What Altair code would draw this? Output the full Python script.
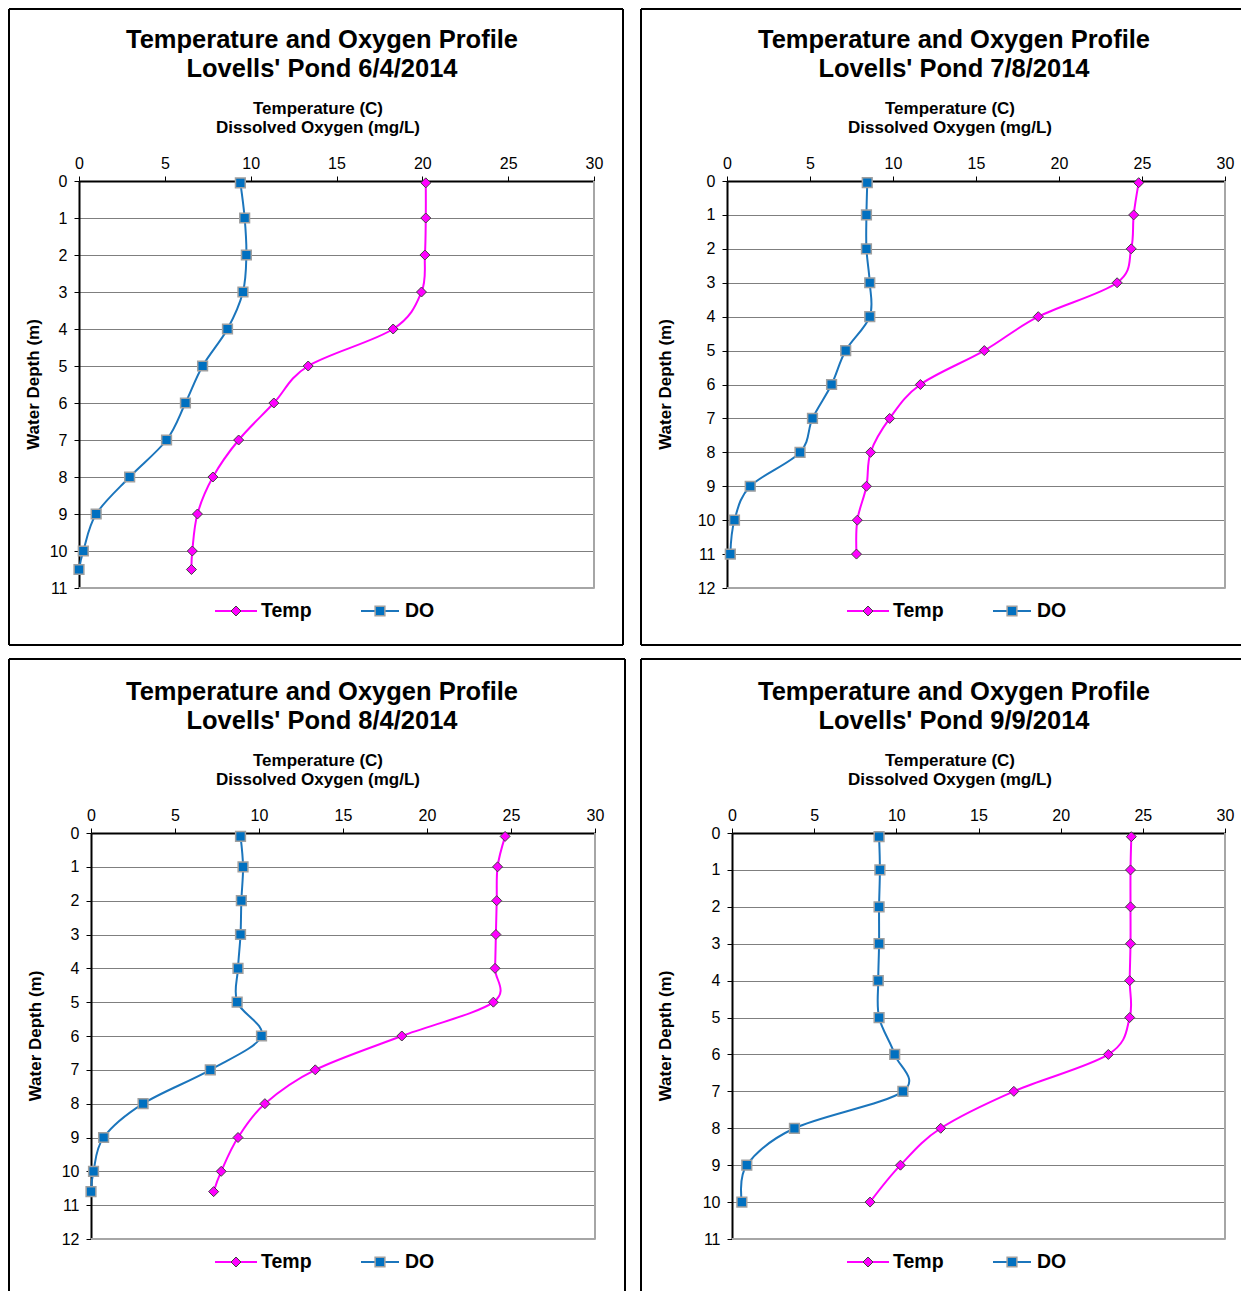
import altair as alt
import pandas as pd

FONT = "Liberation Sans"
TEMP_COLOR = "#FF00FF"
DO_COLOR = "#1B75BC"

TITLE_LINE = "Temperature and Oxygen Profile"
DATES = ["Lovells' Pond 6/4/2014", "Lovells' Pond 7/8/2014",
         "Lovells' Pond 8/4/2014", "Lovells' Pond 9/9/2014"]
X_TITLE = ["Temperature (C)", "Dissolved Oxygen (mg/L)"]
Y_TITLE = "Water Depth (m)"
X_TICKS = [0, 5, 10, 15, 20, 25, 30]

# Panel 1: 6/4/2014
DEPTH_1 = [0.05, 1, 2, 3, 4, 5, 6, 7, 8, 9, 10, 10.5]
TEMP_1 = [20.2, 20.2, 20.15, 19.95, 18.3, 13.35, 11.35, 9.3, 7.8, 6.9, 6.6, 6.55]
DO_1 = [9.4, 9.65, 9.75, 9.55, 8.65, 7.2, 6.2, 5.1, 2.95, 1.0, 0.25, 0.0]

# Panel 2: 7/8/2014
DEPTH_2 = [0.05, 1, 2, 3, 4, 5, 6, 7, 8, 9, 10, 11]
TEMP_2 = [24.8, 24.5, 24.35, 23.5, 18.75, 15.5, 11.65, 9.8, 8.65, 8.4, 7.85, 7.8]
DO_2 = [8.45, 8.4, 8.4, 8.6, 8.6, 7.15, 6.3, 5.15, 4.4, 1.4, 0.45, 0.2]

# Panel 3: 8/4/2014
DEPTH_3 = [0.1, 1, 2, 3, 4, 5, 6, 7, 8, 9, 10, 10.6]
TEMP_3 = [24.65, 24.2, 24.15, 24.1, 24.05, 23.95, 18.5, 13.35, 10.35, 8.75, 7.75, 7.3]
DO_3 = [8.9, 9.05, 8.95, 8.9, 8.75, 8.7, 10.15, 7.1, 3.1, 0.75, 0.15, 0.0]

# Panel 4: 9/9/2014
DEPTH_4 = [0.1, 1, 2, 3, 4, 5, 6, 7, 8, 9, 10]
TEMP_4 = [24.3, 24.25, 24.25, 24.25, 24.2, 24.2, 22.9, 17.15, 12.7, 10.25, 8.4]
DO_4 = [8.95, 9.0, 8.95, 8.95, 8.9, 8.95, 9.9, 10.4, 3.8, 0.9, 0.6]

Y_MAX = [11, 12, 12, 11]

ONE = pd.DataFrame({"a": [0]})


def text_layer(txt, x, y, size, weight="bold", angle=0, align="center"):
    return alt.Chart(pd.DataFrame({"t": [txt]})).mark_text(
        font=FONT, fontSize=size, fontWeight=weight, angle=angle,
        align=align, baseline="middle", color="black"
    ).encode(x=alt.value(x), y=alt.value(y), text="t:N")


def edge(x1, x2, y1, y2, color="black"):
    return alt.Chart(ONE).mark_rule(color=color, strokeWidth=2).encode(
        x=alt.value(x1), x2=alt.value(x2), y=alt.value(y1), y2=alt.value(y2))


def panel(depth, temp, do, date, ymax, L, W, T, H, BW, BH, ytx, right_open):
    """Group origin = top-left corner of the panel frame; plot area at (L, T)."""
    n = len(depth)
    df = pd.DataFrame({
        "depth": list(depth) + list(depth),
        "value": list(temp) + list(do),
        "series": ["Temp"] * n + ["DO"] * n,
    })
    xenc = alt.X(
        "value:Q",
        scale=alt.Scale(domain=[0, 30], range=[L, L + W], nice=False, zero=False),
        axis=alt.Axis(orient="top", offset=-T, values=X_TICKS, title=None, grid=False,
                      domainColor="black", domainWidth=2, tickColor="black",
                      tickSize=5, tickWidth=1, labelFont=FONT, labelFontSize=16,
                      labelColor="black", labelPadding=5, labelFlush=False),
    )
    yenc = alt.Y(
        "depth:Q",
        scale=alt.Scale(domain=[0, ymax], range=[T, T + H], nice=False, zero=False),
        axis=alt.Axis(orient="left", offset=-L, values=list(range(ymax + 1)), title=None,
                      grid=True, gridColor="#7F7F7F", gridWidth=1, domainColor="black",
                      domainWidth=2, tickColor="black", tickSize=5,
                      labelFont=FONT, labelFontSize=16, labelColor="black",
                      labelPadding=7),
    )
    base = alt.Chart(df).encode(x=xenc, y=yenc, order="depth:Q")
    lines = base.mark_line(interpolate="cardinal", tension=0, strokeWidth=2).encode(
        color=alt.Color("series:N",
                        scale=alt.Scale(domain=["Temp", "DO"], range=[TEMP_COLOR, DO_COLOR]),
                        legend=None)
    )
    temp_pts = base.transform_filter("datum.series == 'Temp'").mark_point(
        shape="diamond", filled=True, fill=TEMP_COLOR, stroke="#404040",
        strokeWidth=1, size=100, opacity=1)
    do_pts = base.transform_filter("datum.series == 'DO'").mark_point(
        shape="square", filled=True, fill="#0070C0", stroke="#A0A0A0",
        strokeWidth=1.5, size=95, opacity=1)

    gw = 600 if right_open else BW
    edges = [edge(0, gw, 0, 0), edge(0, gw, BH, BH), edge(0, 0, 0, BH)]
    if not right_open:
        edges.append(edge(BW, BW, 0, BH))
    plot_border = [edge(L + W, L + W, T, T + H, "#A6A6A6"),
                   edge(L, L + W, T + H, T + H, "#A6A6A6")]

    ly = T + H + 23
    leg_temp_line = alt.Chart(ONE).mark_rule(color=TEMP_COLOR, strokeWidth=2).encode(
        x=alt.value(206), x2=alt.value(248), y=alt.value(ly))
    leg_temp_pt = alt.Chart(ONE).mark_point(
        shape="diamond", filled=True, fill=TEMP_COLOR, stroke="#404040",
        strokeWidth=1, size=100, opacity=1).encode(x=alt.value(227), y=alt.value(ly))
    leg_do_line = alt.Chart(ONE).mark_rule(color=DO_COLOR, strokeWidth=2).encode(
        x=alt.value(352), x2=alt.value(390), y=alt.value(ly))
    leg_do_pt = alt.Chart(ONE).mark_point(
        shape="square", filled=True, fill="#0070C0", stroke="#A0A0A0",
        strokeWidth=1.5, size=95, opacity=1).encode(x=alt.value(371), y=alt.value(ly))

    texts = [
        text_layer(TITLE_LINE, 313, T - 141, 25.5),
        text_layer(date, 313, T - 112, 25.5),
        text_layer(X_TITLE[0], 309, T - 72, 17),
        text_layer(X_TITLE[1], 309, T - 53, 17),
        text_layer(Y_TITLE, ytx, T + H / 2, 17, angle=270),
        text_layer("Temp", 252, ly, 19.5, align="left"),
        text_layer("DO", 396, ly, 19.5, align="left"),
    ]
    return alt.layer(*edges, *plot_border, lines, temp_pts, do_pts, leg_temp_line,
                     leg_temp_pt, leg_do_line, leg_do_pt, *texts).properties(width=gw, height=BH)


p1 = panel(DEPTH_1, TEMP_1, DO_1, DATES[0], Y_MAX[0], 70, 515, 172, 407, 614, 636, 25, False)
p2 = panel(DEPTH_2, TEMP_2, DO_2, DATES[1], Y_MAX[1], 86, 498, 172, 407, 614, 636, 25, True)
p3 = panel(DEPTH_3, TEMP_3, DO_3, DATES[2], Y_MAX[2], 82, 504, 174, 406, 616, 637, 27, False)
p4 = panel(DEPTH_4, TEMP_4, DO_4, DATES[3], Y_MAX[3], 91, 493, 174, 406, 614, 637, 25, True)

row1 = alt.hconcat(p1, p2, spacing=16)
row2 = alt.hconcat(p3, p4, spacing=14)
chart = alt.vconcat(row1, row2, spacing=12).properties(padding=0).configure_view(
    strokeWidth=0)

chart.save("out.html", embed_options={"renderer": "svg", "actions": False})
